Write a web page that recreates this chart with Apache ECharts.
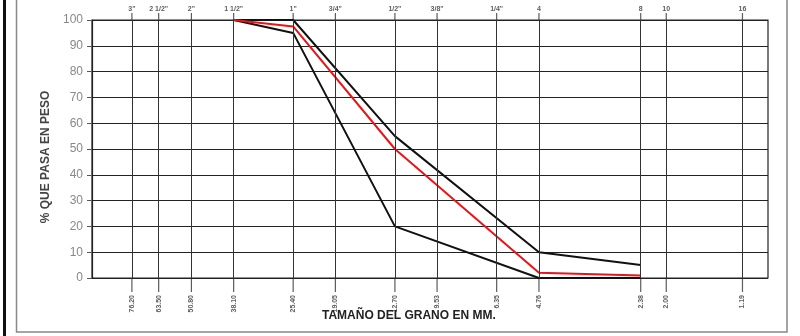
<!DOCTYPE html>
<html>
<head>
<meta charset="utf-8">
<script src="https://cdn.jsdelivr.net/npm/echarts@6/dist/echarts.min.js"></script>
<style>html,body{margin:0;padding:0;background:#fff}#c{width:800px;height:336px}</style>
</head>
<body>
<div id="c"></div>
<script>
var sieveNames = ['3"', '2 1/2"', '2"', '1 1/2"', '1"', '3/4"', '1/2"', '3/8"', '1/4"', '4', '8', '10', '16'];
var sieveMM = [76.20, 63.50, 50.80, 38.10, 25.40, 19.05, 12.70, 9.53, 6.35, 4.76, 2.38, 2.00, 1.19];
var mmLabels = ['76.20', '63.50', '50.80', '38.10', '25.40', '19.05', '12.70', '9.53', '6.35', '4.76', '2.38', '2.00', '1.19'];
var curveSizes = [38.10, 25.40, 12.70, 4.76, 2.38];
var upperLimit = [100, 100, 55, 10, 5];
var lowerLimit = [100, 95, 20, 0, 0];
var sample = [100, 97.5, 50, 2, 1];
var yTicks = [0, 10, 20, 30, 40, 50, 60, 70, 80, 90, 100];

var FONT = 'Liberation Sans, Arial, sans-serif';
function pairs(xs, ys) { return xs.map(function (x, i) { return [x, ys[i]]; }); }

var chart = echarts.init(document.getElementById('c'), null, { renderer: 'canvas' });
chart.setOption({
  animation: false,
  backgroundColor: '#fff',
  textStyle: { fontFamily: FONT },
  graphic: [
    { type: 'rect', shape: { x: 3, y: 0, width: 3, height: 336 }, style: { fill: '#111' }, silent: true },
    { type: 'rect', shape: { x: 16.5, y: -5, width: 770.5, height: 337 }, style: { fill: null, stroke: '#888', lineWidth: 1.5 }, silent: true }
  ],
  title: {
    text: 'TAMAÑO DEL GRANO EN MM.',
    left: 317, top: 305,
    textStyle: { fontFamily: FONT, fontSize: 12, fontWeight: 'bold', color: '#222' }
  },
  grid: { left: 92, right: 32, top: 20, bottom: 58, show: true, borderColor: '#222', borderWidth: 1.2, backgroundColor: '#fff' },
  xAxis: {
    type: 'log', logBase: 10, min: 1, max: 100, inverse: true,
    axisLine: { show: false }, axisTick: { show: false }, axisLabel: { show: false },
    splitLine: { show: false }, minorSplitLine: { show: false }
  },
  yAxis: {
    type: 'value', min: 0, max: 100, interval: 10,
    name: '% QUE PASA EN PESO', nameLocation: 'middle', nameGap: 28, nameRotate: 90,
    nameTextStyle: { fontFamily: FONT, fontSize: 12, fontWeight: 'bold', color: '#444', padding: [0, 0, 0, -16] },
    axisLine: { show: true, lineStyle: { color: '#222', width: 1.2 } },
    axisTick: { show: true, length: 5, lineStyle: { color: '#555' } },
    axisLabel: { fontFamily: FONT, fontSize: 12, color: '#888', margin: 9 },
    splitLine: { show: true, lineStyle: { color: '#222', width: 1 } }
  },
  series: [
    {
      name: 'bottomStubs', type: 'scatter', clip: false, silent: true, z: 1,
      data: pairs(sieveMM, sieveMM.map(function () { return yTicks[0]; })),
      symbol: 'rect', symbolSize: [1.2, 14], symbolOffset: [0, 7],
      itemStyle: { color: '#333' },
      label: {
        show: true, position: 'bottom', distance: 3, rotate: 90, align: 'right', verticalAlign: 'middle',
        fontSize: 7, fontWeight: 'bold', color: '#333', fontFamily: FONT,
        formatter: function (p) { return mmLabels[p.dataIndex]; }
      },
      markLine: {
        silent: true, symbol: ['none', 'none'], label: { show: false },
        lineStyle: { color: '#333', width: 1, type: 'solid' },
        data: sieveMM.map(function (s) { return { xAxis: s }; })
      }
    },
    {
      name: 'topStubs', type: 'scatter', clip: false, silent: true, z: 1,
      data: pairs(sieveMM, sieveMM.map(function () { return yTicks[yTicks.length - 1]; })),
      symbol: 'rect', symbolSize: [1.2, 7], symbolOffset: [0, -3.5],
      itemStyle: { color: '#333' },
      label: {
        show: true, position: 'top', distance: 0,
        fontSize: 7, fontWeight: 'bold', color: '#333', fontFamily: FONT,
        formatter: function (p) { return sieveNames[p.dataIndex]; }
      }
    },
    {
      name: 'Límite superior', type: 'line', data: pairs(curveSizes, upperLimit),
      symbol: 'none', lineStyle: { color: '#111', width: 2 }, z: 3
    },
    {
      name: 'Límite inferior', type: 'line', data: pairs(curveSizes, lowerLimit),
      symbol: 'none', lineStyle: { color: '#111', width: 2 }, z: 3
    },
    {
      name: 'Muestra', type: 'line', data: pairs(curveSizes, sample),
      symbol: 'none', lineStyle: { color: '#e3161b', width: 2 }, z: 4
    }
  ]
});
</script>
</body>
</html>
